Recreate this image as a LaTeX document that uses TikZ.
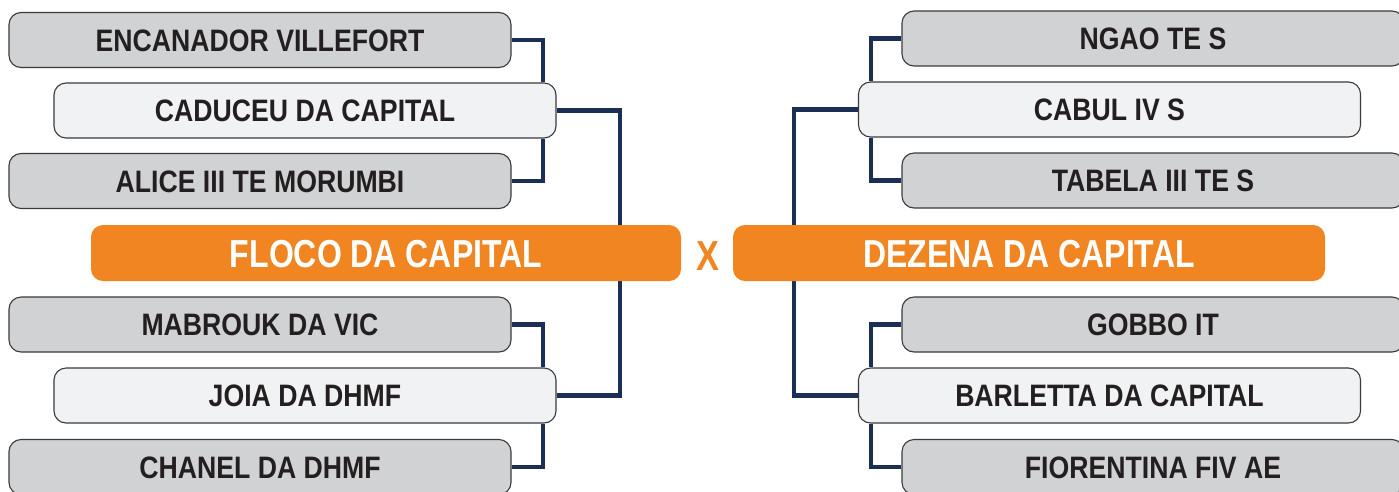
\documentclass[tikz,border=0pt]{standalone}
\usepackage{fontspec}
\usetikzlibrary{backgrounds}
\newfontfamily\lblfont[FakeStretch=0.86]{Liberation Sans Bold}
\newfontfamily\bigfont[FakeStretch=0.82]{Liberation Sans Bold}
\definecolor{boxgray}{HTML}{D1D2D4}
\definecolor{boxlight}{HTML}{F1F2F4}
\definecolor{boxline}{HTML}{3A3A3C}
\definecolor{txtdark}{HTML}{231F20}
\definecolor{orangebox}{HTML}{F08522}
\definecolor{navy}{HTML}{1B2F55}
\tikzset{
  x=1pt, y=-1pt,
  team/.style={draw=boxline, line width=1.1pt, rounded corners=12pt,
    minimum width=502pt, minimum height=55pt, inner sep=0pt,
    font=\lblfont\fontsize{31}{31}\selectfont, text=txtdark,
    text height=22.2pt, text depth=0pt},
  grayteam/.style={team, fill=boxgray},
  lightteam/.style={team, fill=boxlight},
  finalist/.style={fill=orangebox, rounded corners=12pt, minimum height=56pt,
    inner sep=0pt, font=\bigfont\fontsize{39}{39}\selectfont, text=white,
    text height=28pt, text depth=0pt},
  conn/.style={draw=navy, line width=4.6pt}
}
\begin{document}
\begin{tikzpicture}
\useasboundingbox (0,0) rectangle (1399,491);
\clip (0,0) rectangle (1399,491);
% left side
\node[grayteam] (enc) at (260,40) {ENCANADOR VILLEFORT};
\node[lightteam] (cad) at (305,110.5) {CADUCEU DA CAPITAL};
\node[grayteam] (ali) at (260,181) {ALICE III TE MORUMBI};
\node[finalist, minimum width=590pt] (flo) at (386,253) {FLOCO DA CAPITAL};
\node[grayteam] (mab) at (260,324.5) {MABROUK DA VIC};
\node[lightteam] (joi) at (305,395.5) {JOIA DA DHMF};
\node[grayteam] (cha) at (260,467) {CHANEL DA DHMF};
% right side
\node[grayteam] (nga) at (1153,38.5) {NGAO TE S};
\node[lightteam] (cab) at (1109.5,109.5) {CABUL IV S};
\node[grayteam] (tab) at (1153,180.5) {TABELA III TE S};
\node[finalist, minimum width=592pt] (dez) at (1029,253) {DEZENA DA CAPITAL};
\node[grayteam] (gob) at (1153,324.5) {GOBBO IT};
\node[lightteam] (bar) at (1109.5,395.5) {BARLETTA DA CAPITAL};
\node[grayteam] (fio) at (1153,467) {FIORENTINA FIV AE};
% versus
\node[font=\bigfont\fontsize{42}{42}\selectfont, text=orangebox, inner sep=0pt,
  text height=30pt, text depth=0pt] (vs) at (708,255) {X};
% connector columns
\coordinate (lc1) at (543,0);
\coordinate (lc2) at (620,0);
\coordinate (rc1) at (871,0);
\coordinate (rc2) at (794,0);
\begin{scope}[on background layer]
  \draw[conn] (enc.east) -| (lc1 |- cad.north);
  \draw[conn] (ali.east) -| (lc1 |- cad.south);
  \draw[conn] (mab.east) -| (lc1 |- joi.north);
  \draw[conn] (cha.east) -| (lc1 |- joi.south);
  \draw[conn] (cad.east) -| (lc2 |- joi.east) -- (joi.east);
  \draw[conn] (nga.west) -| (rc1 |- cab.north);
  \draw[conn] (tab.west) -| (rc1 |- cab.south);
  \draw[conn] (gob.west) -| (rc1 |- bar.north);
  \draw[conn] (fio.west) -| (rc1 |- bar.south);
  \draw[conn] (cab.west) -| (rc2 |- bar.west) -- (bar.west);
\end{scope}
\end{tikzpicture}
\end{document}
